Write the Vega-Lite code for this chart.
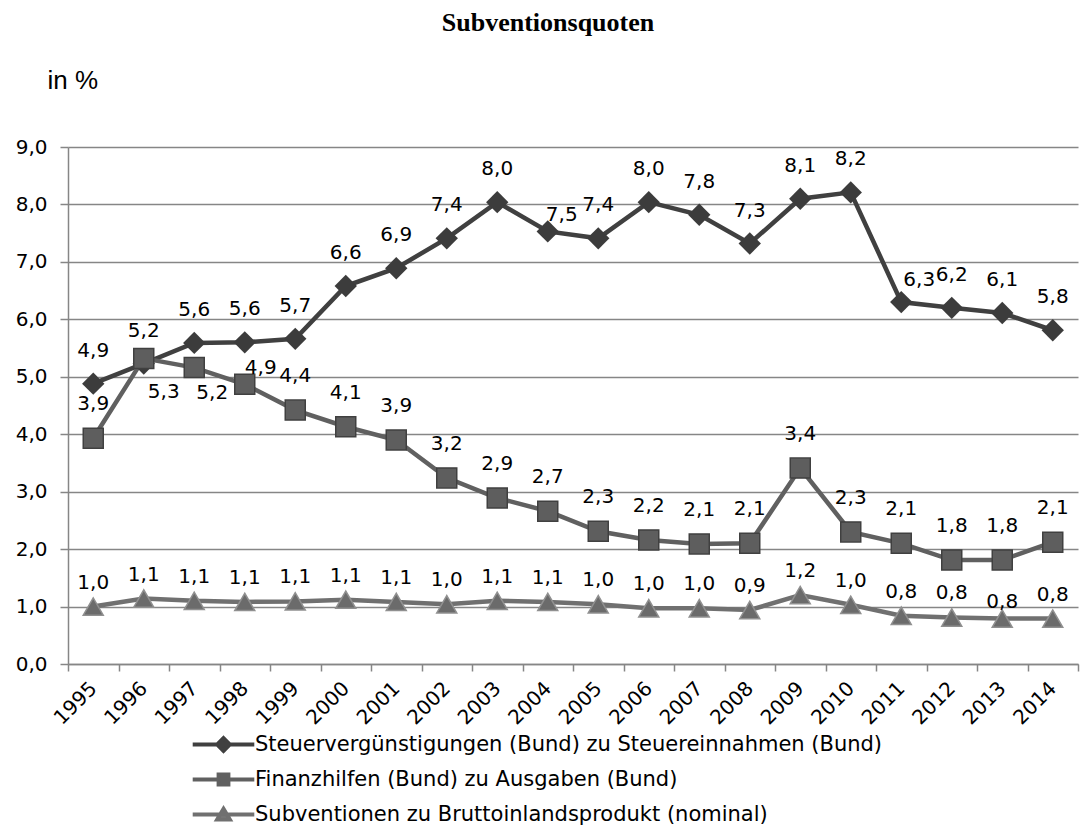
{
  "$schema": "https://vega.github.io/schema/vega-lite/v6.json",
  "width": 1010,
  "height": 517,
  "autosize": "none",
  "padding": {"left": 68, "top": 147, "right": 12, "bottom": 163},
  "background": "#ffffff",
  "title": {"text": "Subventionsquoten", "font": "Liberation Serif", "fontSize": 26, "fontWeight": "bold", "color": "#000000", "anchor": "middle", "frame": "group", "baseline": "alphabetic", "offset": 10, "dx": -25},
  "config": {
    "view": {"stroke": null},
    "locale": {"number": {"decimal": ",", "thousands": ".", "grouping": [3], "currency": ["", " €"]}}
  },
  "data": {"values": [
    {"year": "1995", "series": "Steuervergünstigungen (Bund) zu Steuereinnahmen (Bund)", "value": 4.88},
    {"year": "1996", "series": "Steuervergünstigungen (Bund) zu Steuereinnahmen (Bund)", "value": 5.23},
    {"year": "1997", "series": "Steuervergünstigungen (Bund) zu Steuereinnahmen (Bund)", "value": 5.59},
    {"year": "1998", "series": "Steuervergünstigungen (Bund) zu Steuereinnahmen (Bund)", "value": 5.6},
    {"year": "1999", "series": "Steuervergünstigungen (Bund) zu Steuereinnahmen (Bund)", "value": 5.66},
    {"year": "2000", "series": "Steuervergünstigungen (Bund) zu Steuereinnahmen (Bund)", "value": 6.58},
    {"year": "2001", "series": "Steuervergünstigungen (Bund) zu Steuereinnahmen (Bund)", "value": 6.89},
    {"year": "2002", "series": "Steuervergünstigungen (Bund) zu Steuereinnahmen (Bund)", "value": 7.41},
    {"year": "2003", "series": "Steuervergünstigungen (Bund) zu Steuereinnahmen (Bund)", "value": 8.04},
    {"year": "2004", "series": "Steuervergünstigungen (Bund) zu Steuereinnahmen (Bund)", "value": 7.53},
    {"year": "2005", "series": "Steuervergünstigungen (Bund) zu Steuereinnahmen (Bund)", "value": 7.41},
    {"year": "2006", "series": "Steuervergünstigungen (Bund) zu Steuereinnahmen (Bund)", "value": 8.04},
    {"year": "2007", "series": "Steuervergünstigungen (Bund) zu Steuereinnahmen (Bund)", "value": 7.82},
    {"year": "2008", "series": "Steuervergünstigungen (Bund) zu Steuereinnahmen (Bund)", "value": 7.32},
    {"year": "2009", "series": "Steuervergünstigungen (Bund) zu Steuereinnahmen (Bund)", "value": 8.1},
    {"year": "2010", "series": "Steuervergünstigungen (Bund) zu Steuereinnahmen (Bund)", "value": 8.21},
    {"year": "2011", "series": "Steuervergünstigungen (Bund) zu Steuereinnahmen (Bund)", "value": 6.3},
    {"year": "2012", "series": "Steuervergünstigungen (Bund) zu Steuereinnahmen (Bund)", "value": 6.2},
    {"year": "2013", "series": "Steuervergünstigungen (Bund) zu Steuereinnahmen (Bund)", "value": 6.11},
    {"year": "2014", "series": "Steuervergünstigungen (Bund) zu Steuereinnahmen (Bund)", "value": 5.81},
    {"year": "1995", "series": "Finanzhilfen (Bund) zu Ausgaben (Bund)", "value": 3.93},
    {"year": "1996", "series": "Finanzhilfen (Bund) zu Ausgaben (Bund)", "value": 5.32},
    {"year": "1997", "series": "Finanzhilfen (Bund) zu Ausgaben (Bund)", "value": 5.16},
    {"year": "1998", "series": "Finanzhilfen (Bund) zu Ausgaben (Bund)", "value": 4.87},
    {"year": "1999", "series": "Finanzhilfen (Bund) zu Ausgaben (Bund)", "value": 4.42},
    {"year": "2000", "series": "Finanzhilfen (Bund) zu Ausgaben (Bund)", "value": 4.13},
    {"year": "2001", "series": "Finanzhilfen (Bund) zu Ausgaben (Bund)", "value": 3.9},
    {"year": "2002", "series": "Finanzhilfen (Bund) zu Ausgaben (Bund)", "value": 3.24},
    {"year": "2003", "series": "Finanzhilfen (Bund) zu Ausgaben (Bund)", "value": 2.89},
    {"year": "2004", "series": "Finanzhilfen (Bund) zu Ausgaben (Bund)", "value": 2.66},
    {"year": "2005", "series": "Finanzhilfen (Bund) zu Ausgaben (Bund)", "value": 2.31},
    {"year": "2006", "series": "Finanzhilfen (Bund) zu Ausgaben (Bund)", "value": 2.16},
    {"year": "2007", "series": "Finanzhilfen (Bund) zu Ausgaben (Bund)", "value": 2.09},
    {"year": "2008", "series": "Finanzhilfen (Bund) zu Ausgaben (Bund)", "value": 2.1},
    {"year": "2009", "series": "Finanzhilfen (Bund) zu Ausgaben (Bund)", "value": 3.41},
    {"year": "2010", "series": "Finanzhilfen (Bund) zu Ausgaben (Bund)", "value": 2.3},
    {"year": "2011", "series": "Finanzhilfen (Bund) zu Ausgaben (Bund)", "value": 2.1},
    {"year": "2012", "series": "Finanzhilfen (Bund) zu Ausgaben (Bund)", "value": 1.81},
    {"year": "2013", "series": "Finanzhilfen (Bund) zu Ausgaben (Bund)", "value": 1.81},
    {"year": "2014", "series": "Finanzhilfen (Bund) zu Ausgaben (Bund)", "value": 2.12},
    {"year": "1995", "series": "Subventionen zu Bruttoinlandsprodukt (nominal)", "value": 1.0},
    {"year": "1996", "series": "Subventionen zu Bruttoinlandsprodukt (nominal)", "value": 1.14},
    {"year": "1997", "series": "Subventionen zu Bruttoinlandsprodukt (nominal)", "value": 1.1},
    {"year": "1998", "series": "Subventionen zu Bruttoinlandsprodukt (nominal)", "value": 1.08},
    {"year": "1999", "series": "Subventionen zu Bruttoinlandsprodukt (nominal)", "value": 1.09},
    {"year": "2000", "series": "Subventionen zu Bruttoinlandsprodukt (nominal)", "value": 1.12},
    {"year": "2001", "series": "Subventionen zu Bruttoinlandsprodukt (nominal)", "value": 1.08},
    {"year": "2002", "series": "Subventionen zu Bruttoinlandsprodukt (nominal)", "value": 1.04},
    {"year": "2003", "series": "Subventionen zu Bruttoinlandsprodukt (nominal)", "value": 1.1},
    {"year": "2004", "series": "Subventionen zu Bruttoinlandsprodukt (nominal)", "value": 1.08},
    {"year": "2005", "series": "Subventionen zu Bruttoinlandsprodukt (nominal)", "value": 1.04},
    {"year": "2006", "series": "Subventionen zu Bruttoinlandsprodukt (nominal)", "value": 0.97},
    {"year": "2007", "series": "Subventionen zu Bruttoinlandsprodukt (nominal)", "value": 0.97},
    {"year": "2008", "series": "Subventionen zu Bruttoinlandsprodukt (nominal)", "value": 0.94},
    {"year": "2009", "series": "Subventionen zu Bruttoinlandsprodukt (nominal)", "value": 1.2},
    {"year": "2010", "series": "Subventionen zu Bruttoinlandsprodukt (nominal)", "value": 1.03},
    {"year": "2011", "series": "Subventionen zu Bruttoinlandsprodukt (nominal)", "value": 0.84},
    {"year": "2012", "series": "Subventionen zu Bruttoinlandsprodukt (nominal)", "value": 0.81},
    {"year": "2013", "series": "Subventionen zu Bruttoinlandsprodukt (nominal)", "value": 0.79},
    {"year": "2014", "series": "Subventionen zu Bruttoinlandsprodukt (nominal)", "value": 0.79}
  ]},
  "encoding": {
    "x": {"field": "year", "type": "ordinal",
      "scale": {"type": "band", "paddingInner": 0, "paddingOuter": 0},
      "axis": {"title": null, "labelAngle": -45, "labelAlign": "right", "labelBaseline": "middle", "labelFont": "DejaVu Sans", "labelFontSize": 20, "labelColor": "#000000", "tickBand": "extent", "tickSize": 7, "tickColor": "#868686", "tickWidth": 1.5, "domainColor": "#868686", "domainWidth": 1.5, "grid": false, "labelPadding": 14}},
    "y": {"field": "value", "type": "quantitative",
      "scale": {"domain": [0, 9], "nice": false},
      "axis": {"title": "in %", "titleAngle": 0, "titleAlign": "left", "titleBaseline": "alphabetic", "titleX": -21, "titleY": -59, "titleFont": "Liberation Sans", "titleFontSize": 26, "titleFontWeight": "normal", "titleColor": "#000000",
        "values": [0, 1, 2, 3, 4, 5, 6, 7, 8, 9], "format": ".1f", "labelFont": "DejaVu Sans", "labelFontSize": 20, "labelColor": "#000000", "tickSize": 8, "tickColor": "#868686", "tickWidth": 1.5, "domainColor": "#868686", "domainWidth": 1.5, "gridColor": "#868686", "gridWidth": 1.5, "labelPadding": 13}}
  },
  "layer": [
    {
      "mark": {"type": "line", "strokeWidth": 4.5},
      "encoding": {
        "color": {"field": "series", "type": "nominal",
          "scale": {"domain": ["Steuervergünstigungen (Bund) zu Steuereinnahmen (Bund)", "Finanzhilfen (Bund) zu Ausgaben (Bund)", "Subventionen zu Bruttoinlandsprodukt (nominal)"], "range": ["#404040", "#606060", "#707070"]},
          "legend": {"orient": "none", "legendX": 145, "legendY": 587, "title": null, "direction": "vertical", "padding": 0,
            "labelFont": "DejaVu Sans", "labelFontSize": 21, "labelColor": "#000000", "labelOffset": 21, "labelLimit": 1000, "rowPadding": 7,
            "symbolSize": 196, "symbolStrokeWidth": 4,
            "encode": {"symbols": {"update": {
              "shape": {"signal": "indexof(datum.value,'Steuer')==0 ? 'M-4.4,0H4.4M0,-0.9L0.9,0L0,0.9L-0.9,0Z' : indexof(datum.value,'Finanz')==0 ? 'M-4.4,0H4.4M-0.7,-0.7H0.7V0.7H-0.7Z' : 'M-4.4,0H4.4M0,-0.8L0.9,0.7H-0.9Z'"},
              "fill": {"signal": "indexof(datum.value,'Steuer')==0 ? '#404040' : indexof(datum.value,'Finanz')==0 ? '#606060' : '#7a7a7a'"},
              "stroke": {"signal": "indexof(datum.value,'Steuer')==0 ? '#404040' : indexof(datum.value,'Finanz')==0 ? '#606060' : '#8a8a8a'"},
              "strokeWidth": {"value": 4},
              "opacity": {"value": 1}
            }}}}
        }
      }
    },
    {
      "transform": [{"filter": "indexof(datum.series,'Steuer')==0"}],
      "mark": {"type": "point", "shape": "diamond", "filled": true, "size": 500, "color": "#3c3c3c", "opacity": 1}
    },
    {
      "transform": [{"filter": "indexof(datum.series,'Finanz')==0"}],
      "mark": {"type": "point", "shape": "square", "filled": true, "size": 400, "fill": "#5e5e5e", "stroke": "#404040", "strokeWidth": 1.5, "opacity": 1}
    },
    {
      "transform": [{"filter": "indexof(datum.series,'Subvention')==0"}],
      "mark": {"type": "point", "shape": "triangle-up", "filled": true, "size": 400, "fill": "#6b6b6b", "stroke": "#909090", "strokeWidth": 1.5, "opacity": 1}
    },
    {
      "transform": [{"filter": "indexof(datum.series,'Steuer')==0 && datum.year != '2004' && datum.year != '2011'"}],
      "mark": {"type": "text", "font": "DejaVu Sans", "fontSize": 20, "dy": -33, "baseline": "middle", "color": "#000000"},
      "encoding": {"text": {"field": "value", "type": "quantitative", "format": ".1f"}}
    },
    {
      "transform": [{"filter": "indexof(datum.series,'Steuer')==0 && datum.year == '2004'"}],
      "mark": {"type": "text", "font": "DejaVu Sans", "fontSize": 20, "dx": 14, "dy": -16, "baseline": "middle", "color": "#000000"},
      "encoding": {"text": {"field": "value", "type": "quantitative", "format": ".1f"}}
    },
    {
      "transform": [{"filter": "indexof(datum.series,'Steuer')==0 && datum.year == '2011'"}],
      "mark": {"type": "text", "font": "DejaVu Sans", "fontSize": 20, "dx": 18, "dy": -22, "baseline": "middle", "color": "#000000"},
      "encoding": {"text": {"field": "value", "type": "quantitative", "format": ".1f"}}
    },
    {
      "transform": [{"filter": "indexof(datum.series,'Finanz')==0 && datum.year != '1996' && datum.year != '1997' && datum.year != '1998'"}],
      "mark": {"type": "text", "font": "DejaVu Sans", "fontSize": 20, "dy": -34, "baseline": "middle", "color": "#000000"},
      "encoding": {"text": {"field": "value", "type": "quantitative", "format": ".1f"}}
    },
    {
      "transform": [{"filter": "indexof(datum.series,'Finanz')==0 && datum.year == '1996'"}],
      "mark": {"type": "text", "font": "DejaVu Sans", "fontSize": 20, "dx": 20, "dy": 34, "baseline": "middle", "color": "#000000"},
      "encoding": {"text": {"field": "value", "type": "quantitative", "format": ".1f"}}
    },
    {
      "transform": [{"filter": "indexof(datum.series,'Finanz')==0 && datum.year == '1997'"}],
      "mark": {"type": "text", "font": "DejaVu Sans", "fontSize": 20, "dx": 18, "dy": 25, "baseline": "middle", "color": "#000000"},
      "encoding": {"text": {"field": "value", "type": "quantitative", "format": ".1f"}}
    },
    {
      "transform": [{"filter": "indexof(datum.series,'Finanz')==0 && datum.year == '1998'"}],
      "mark": {"type": "text", "font": "DejaVu Sans", "fontSize": 20, "dx": 16, "dy": -16, "baseline": "middle", "color": "#000000"},
      "encoding": {"text": {"field": "value", "type": "quantitative", "format": ".1f"}}
    },
    {
      "transform": [{"filter": "indexof(datum.series,'Subvention')==0 && datum.year != '2013'"}],
      "mark": {"type": "text", "font": "DejaVu Sans", "fontSize": 20, "dy": -24, "baseline": "middle", "color": "#000000"},
      "encoding": {"text": {"field": "value", "type": "quantitative", "format": ".1f"}}
    },
    {
      "transform": [{"filter": "indexof(datum.series,'Subvention')==0 && datum.year == '2013'"}],
      "mark": {"type": "text", "font": "DejaVu Sans", "fontSize": 20, "dy": -17, "baseline": "middle", "color": "#000000"},
      "encoding": {"text": {"field": "value", "type": "quantitative", "format": ".1f"}}
    }
  ]
}
